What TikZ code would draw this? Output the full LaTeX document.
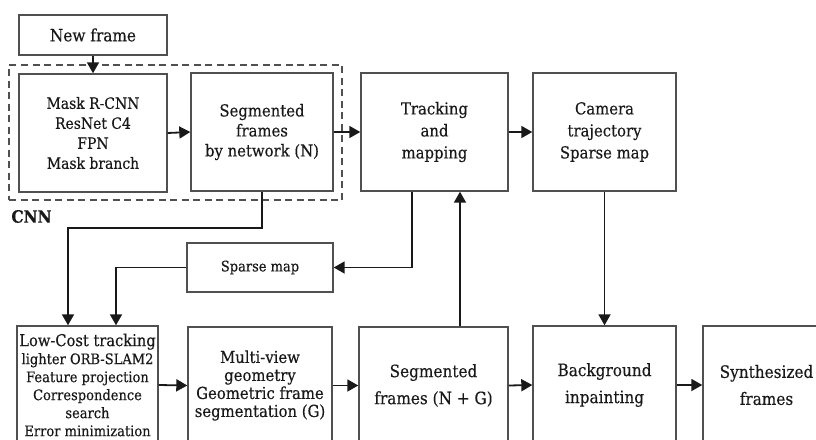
\documentclass[tikz,border=0pt]{standalone}
\usepackage{fontspec}
\setmainfont[FakeBold=0.35]{DejaVu Serif Condensed}
\usetikzlibrary{arrows.meta}
\definecolor{edgegray}{RGB}{80,80,80}
\definecolor{inkcol}{RGB}{25,25,25}
\begin{document}
\begin{tikzpicture}[x=1pt,y=-1pt,
  box/.style={draw=edgegray, line width=1.4pt, align=center, inner sep=0pt,
    text=inkcol, font=\fontsize{16.5}{20}\selectfont},
  flow/.style={line width=1.8pt, draw=inkcol, -{Triangle[length=11pt,width=12pt]}},
]
\useasboundingbox (0,0) rectangle (816,439);
\clip (0,0) rectangle (816,439);

% CNN stage
\node[draw=edgegray, line width=1.5pt, dash pattern=on 7pt off 4.5pt,
  minimum width=333pt, minimum height=135pt] (cnnframe) at (175.5,132.5) {};
\node[font=\bfseries\fontsize{17}{20}\selectfont, text=inkcol] (cnn) at (31.5,216.5) {CNN};

\node[box, minimum width=148pt, minimum height=40pt,
  font=\fontsize{17}{20}\selectfont] (newframe) at (93,35) {New frame};
\node[box, minimum width=148pt, minimum height=118pt,
  font=\fontsize{15.5}{20}\selectfont] (mask) at (93,133)
  {Mask R-CNN\\ResNet C4\\FPN\\Mask branch};
\node[box, minimum width=142pt, minimum height=118pt] (segN) at (262,132)
  {Segmented\\frames\\by network (N)};
\node[box, minimum width=147pt, minimum height=118pt,
  font=\fontsize{16.5}{22}\selectfont] (track) at (434.5,132)
  {Tracking\\and\\mapping};
\node[box, minimum width=143pt, minimum height=118pt,
  font=\fontsize{16.5}{22}\selectfont] (camera) at (604.5,132)
  {Camera\\trajectory\\Sparse map};

\node[box, minimum width=146pt, minimum height=49pt,
  font=\fontsize{14.5}{16}\selectfont] (sparse) at (260,267.5) {Sparse map};

% lower row
\node[box, minimum width=141pt, minimum height=118pt,
  font=\fontsize{14.5}{18}\selectfont] (lowcost) at (87.5,385)
  {{\fontsize{16.3}{18}\selectfont Low-Cost tracking}\\lighter ORB-SLAM2\\Feature projection\\Correspondence\\search\\Error minimization};
\node[box, minimum width=144pt, minimum height=117pt,
  font=\fontsize{16.5}{18}\selectfont] (multiview) at (260,385.5)
  {Multi-view\\geometry\\Geometric frame\\segmentation (G)};
\node[box, minimum width=149pt, minimum height=117pt,
  font=\fontsize{17}{27}\selectfont] (segNG) at (433.5,385.5)
  {Segmented\\frames (N + G)};
\node[box, minimum width=143pt, minimum height=118pt,
  font=\fontsize{17}{27}\selectfont] (background) at (604.5,385)
  {Background\\inpainting};
\node[box, minimum width=127pt, minimum height=118pt,
  font=\fontsize{17}{27}\selectfont] (synth) at (766.5,385)
  {Synthesized\\frames};

% connectors
\draw[flow] (newframe.south) -- (mask.north);
\draw[flow] (mask.east) -- (segN.west);
\draw[flow] (segN.east) -- (track.west);
\draw[flow] (track.east) -- (camera.west);
\draw[flow] (segN.south) -- ++(0,36) -| ([xshift=-19.5pt]lowcost.north);
\draw[flow] (sparse.west) -| ([xshift=28.5pt]lowcost.north);
\draw[flow] ([xshift=-22.5pt]track.south) |- (sparse.east);
\coordinate (upfoot) at ([xshift=26.5pt]segNG.north);
\draw[flow] (upfoot) -- (upfoot |- track.south);
\draw[flow] (camera.south) -- (background.north);
\draw[flow] (lowcost.east) -- (multiview.west);
\draw[flow] (multiview.east) -- (segNG.west);
\draw[flow] (segNG.east) -- (background.west);
\draw[flow] (background.east) -- (synth.west);
\end{tikzpicture}
\end{document}
